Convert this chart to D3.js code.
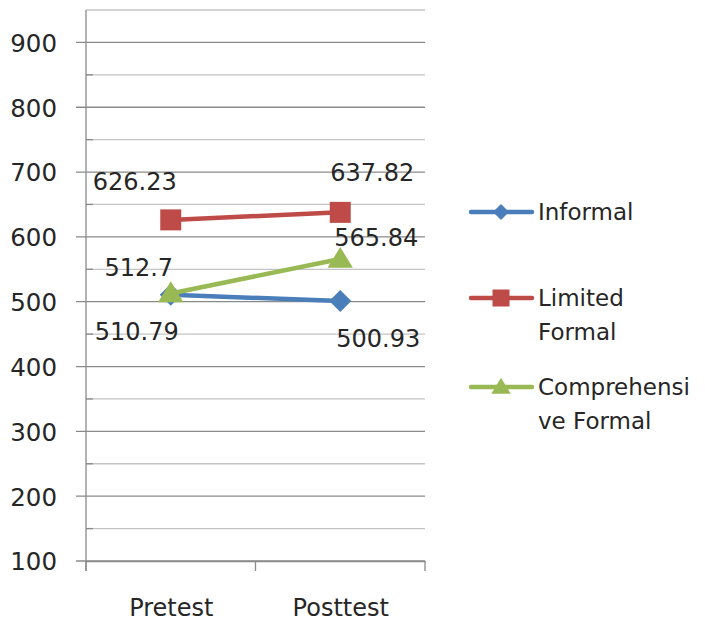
<!DOCTYPE html>
<html>
<head>
<meta charset="utf-8">
<script src="https://cdn.jsdelivr.net/npm/d3@7/dist/d3.min.js"></script>
<style>
  html, body { margin: 0; padding: 0; background: #fff; }
  svg { display: block; }
  text { font-family: "DejaVu Sans", sans-serif; fill: #262626; }
</style>
</head>
<body>
<svg id="chart" width="705" height="625"></svg>
<script>
// Test phases on the x axis
const categories = ["Pretest", "Posttest"];

// Mean scores per group
const informal = [510.79, 500.93];
const limitedFormal = [626.23, 637.82];
const comprehensiveFormal = [512.7, 565.84];

const seriesNames = ["Informal", "Limited Formal", "Comprehensive Formal"];
const legendLines = [["Informal"], ["Limited", "Formal"], ["Comprehensi", "ve Formal"]];
const yTicks = [100, 200, 300, 400, 500, 600, 700, 800, 900];
const yMinorTicks = [150, 250, 350, 450, 550, 650, 750, 850, 950];

const series = [
  { name: seriesNames[0], values: informal, color: "#4a7ebb", shape: "diamond" },
  { name: seriesNames[1], values: limitedFormal, color: "#be4b48", shape: "square" },
  { name: seriesNames[2], values: comprehensiveFormal, color: "#98b954", shape: "triangle" }
];

// Data-label offsets (pixels from the point), one pair per category
const labelOffsets = [
  [[-34, 37], [38, 37]],
  [[-36, -39], [32, -40]],
  [[-32, -26], [36, -22]]
];

const svg = d3.select("#chart");
const plotLeft = 86, plotRight = 425, plotTop = 10, plotBottom = 561;

const y = d3.scaleLinear().domain([100, 950]).range([plotBottom, plotTop]);
const x = d3.scalePoint().domain(categories).range([plotLeft, plotRight]).padding(0.5);

// Minor gridlines
svg.append("g").selectAll("line").data(yMinorTicks).join("line")
  .attr("x1", plotLeft).attr("x2", plotRight)
  .attr("y1", d => y(d)).attr("y2", d => y(d))
  .attr("stroke", "#c4c4c4").attr("stroke-width", 1.3);
// short minor tick marks on the axis
svg.append("g").selectAll("line").data(yMinorTicks.filter(d => d < 950)).join("line")
  .attr("x1", plotLeft).attr("x2", plotLeft + 7)
  .attr("y1", d => y(d)).attr("y2", d => y(d))
  .attr("stroke", "#8a8a8a").attr("stroke-width", 1.3);

// Major gridlines
svg.append("g").selectAll("line").data(yTicks).join("line")
  .attr("x1", plotLeft - 10).attr("x2", plotRight)
  .attr("y1", d => y(d)).attr("y2", d => y(d))
  .attr("stroke", "#8a8a8a").attr("stroke-width", 1.3);

// Y axis
const yAxis = d3.axisLeft(y).tickValues(yTicks).tickSize(0).tickPadding(0);
const gy = svg.append("g").attr("transform", `translate(${plotLeft},0)`).call(yAxis);
gy.select(".domain").remove();
gy.selectAll("text")
  .attr("x", -29)
  .attr("dy", "0.36em")
  .style("font-size", "24.5px")
  .style("font-family", "'DejaVu Sans', sans-serif")
  .attr("fill", "#262626");

svg.append("line")
  .attr("x1", plotLeft).attr("x2", plotLeft)
  .attr("y1", plotTop).attr("y2", plotBottom + 10)
  .attr("stroke", "#8a8a8a").attr("stroke-width", 1.3);

// X axis
const xAxis = d3.axisBottom(x).tickSize(0).tickPadding(0);
const gx = svg.append("g").attr("transform", `translate(0,${plotBottom})`).call(xAxis);
gx.select(".domain").attr("stroke", "#8a8a8a").attr("stroke-width", 1.3);
gx.selectAll("text")
  .attr("y", 46)
  .attr("dy", "0.36em")
  .style("font-size", "24px")
  .style("font-family", "'DejaVu Sans', sans-serif")
  .attr("fill", "#262626");
// tick marks between categories
const bw = x.step();
const boundaries = [plotLeft, plotLeft + bw, plotRight];
svg.append("g").selectAll("line").data(boundaries).join("line")
  .attr("x1", d => d).attr("x2", d => d)
  .attr("y1", plotBottom).attr("y2", plotBottom + 10)
  .attr("stroke", "#8a8a8a").attr("stroke-width", 1.3);

// Marker shapes
function markerPath(shape, s) {
  if (shape === "diamond") return `M0,${-s}L${s},0L0,${s}L${-s},0Z`;
  if (shape === "square") return `M${-s},${-s}H${s}V${s}H${-s}Z`;
  return `M0,${-s * 1.1}L${s * 1.15},${s * 0.8}L${-s * 1.15},${s * 0.8}Z`;
}
const markerSize = { diamond: 11, square: 10.5, triangle: 11 };

const line = d3.line().x((d, i) => x(categories[i])).y(d => y(d));

series.forEach((s, si) => {
  const g = svg.append("g");
  g.append("path").datum(s.values)
    .attr("d", line)
    .attr("fill", "none")
    .attr("stroke", s.color)
    .attr("stroke-width", 4.5)
    .attr("stroke-linecap", "round");
  g.selectAll("path.mk").data(s.values).join("path")
    .attr("class", "mk")
    .attr("transform", (d, i) => `translate(${x(categories[i])},${y(d)})`)
    .attr("d", markerPath(s.shape, markerSize[s.shape]))
    .attr("fill", s.color);
});

// Data labels
series.forEach((s, si) => {
  svg.append("g").selectAll("text").data(s.values).join("text")
    .attr("x", (d, i) => x(categories[i]) + labelOffsets[si][i][0])
    .attr("y", (d, i) => y(d) + labelOffsets[si][i][1])
    .attr("text-anchor", "middle")
    .attr("dy", "0.36em")
    .style("font-size", "24px")
    .text(d => String(d));
});

// Legend
const legendY = [212, 298, 387];
const lg = svg.append("g");
series.forEach((s, si) => {
  const yy = legendY[si];
  lg.append("line")
    .attr("x1", 471).attr("x2", 532)
    .attr("y1", yy).attr("y2", yy)
    .attr("stroke", s.color).attr("stroke-width", 4.5)
    .attr("stroke-linecap", "round");
  lg.append("path")
    .attr("transform", `translate(501,${yy})`)
    .attr("d", markerPath(s.shape, s.shape === "diamond" ? 8 : 8.5))
    .attr("fill", s.color);
  legendLines[si].forEach((t, li) => {
    lg.append("text")
      .attr("x", 538)
      .attr("y", yy + li * 34)
      .attr("dy", "0.36em")
      .style("font-size", "23px")
      .text(t);
  });
});
</script>
</body>
</html>
